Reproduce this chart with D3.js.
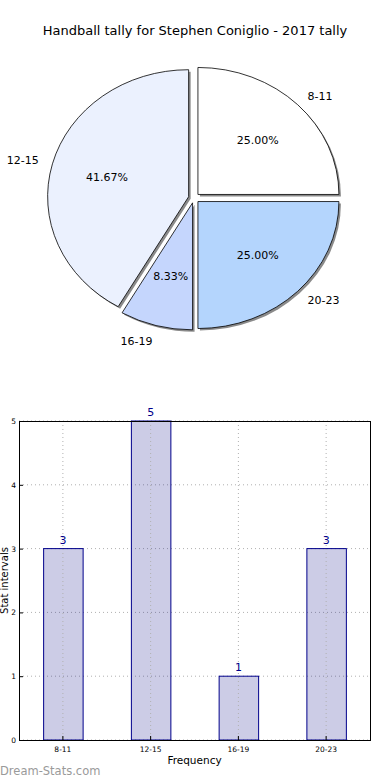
<!DOCTYPE html>
<html>
<head>
<meta charset="utf-8">
<script src="https://cdn.jsdelivr.net/npm/d3@7"></script>
<style>
  body { margin: 0; background: #fff; }
  svg { display: block; font-family: "DejaVu Sans", sans-serif; }
</style>
</head>
<body>
<div id="chart"></div>
<script>
// chart data
var categories = ["8-11", "12-15", "16-19", "20-23"];
var counts = [3, 5, 1, 3];
var sliceColors = ["#ffffff", "#ebf1fe", "#c5d6fd", "#b4d5fd"];
var yTicks = [0, 1, 2, 3, 4, 5];

var title = "Handball tally for Stephen Coniglio - 2017 tally";

var W = 390, H = 780;
var svg = d3.select("#chart").append("svg")
    .attr("width", W)
    .attr("height", H);

svg.append("text")
    .attr("x", 195)
    .attr("y", 35)
    .attr("text-anchor", "middle")
    .style("font-size", "13px")
    .text(title);

// ---- pie (matplotlib style: starts at 3 o'clock, counter clockwise) ----
var cx = 194, cy = 198;
var ry = 127, sx = 141 / 127;   // pie is a bit stretched horizontally
var explode = 5;
var total = d3.sum(counts);

var pie = d3.pie()
    .sort(null)
    .startAngle(Math.PI / 2)
    .endAngle(Math.PI / 2 - 2 * Math.PI);

var arc = d3.arc().innerRadius(0).outerRadius(ry);
var slices = pie(counts);

// offset of a slice along its mid angle (d3 angle: clockwise from 12 o'clock)
function shift(d, dist) {
  var a = (d.startAngle + d.endAngle) / 2;
  return [Math.sin(a) * dist * sx, -Math.cos(a) * dist];
}

var pieG = svg.append("g").attr("class", "pie");

// shadows first
pieG.selectAll("path.shadow")
    .data(slices)
  .enter().append("path")
    .attr("class", "shadow")
    .attr("d", arc)
    .attr("fill", "#8a8a8a")
    .attr("transform", function(d) {
      var o = shift(d, explode);
      return "translate(" + (cx + o[0] + 2) + "," + (cy + o[1] + 2) + ") scale(" + sx + ",1)";
    });

pieG.selectAll("path.slice")
    .data(slices)
  .enter().append("path")
    .attr("class", "slice")
    .attr("d", arc)
    .attr("fill", function(d, i) { return sliceColors[i]; })
    .attr("stroke", "#000")
    .attr("stroke-width", 0.8)
    .attr("vector-effect", "non-scaling-stroke")
    .attr("transform", function(d) {
      var o = shift(d, explode);
      return "translate(" + (cx + o[0]) + "," + (cy + o[1]) + ") scale(" + sx + ",1)";
    });

function radialPos(d, frac) {
  var a = (d.startAngle + d.endAngle) / 2;
  var o = shift(d, explode);
  return [cx + o[0] + Math.sin(a) * frac * ry * sx, cy + o[1] - Math.cos(a) * frac * ry];
}

pieG.selectAll("text.pct")
    .data(slices)
  .enter().append("text")
    .attr("class", "pct")
    .attr("x", function(d) { return radialPos(d, 0.6)[0]; })
    .attr("y", function(d) { return radialPos(d, 0.6)[1]; })
    .attr("dy", "0.35em")
    .attr("text-anchor", "middle")
    .style("font-size", "11px")
    .text(function(d) { return (d.value / total * 100).toFixed(2) + "%"; });

pieG.selectAll("text.lbl")
    .data(slices)
  .enter().append("text")
    .attr("class", "lbl")
    .attr("x", function(d) { return radialPos(d, 1.1)[0]; })
    .attr("y", function(d) { return radialPos(d, 1.1)[1]; })
    .attr("dy", function(d) {
      var p = radialPos(d, 1.1);
      return p[1] > cy + ry ? "0.7em" : "0.35em";
    })
    .attr("text-anchor", function(d) {
      return radialPos(d, 1.1)[0] > cx ? "start" : "end";
    })
    .style("font-size", "11px")
    .text(function(d, i) { return categories[i]; });

// ---- bar chart ----
var plot = {left: 19, right: 370, top: 421, bottom: 740};

var x = d3.scaleBand()
    .domain(categories)
    .range([plot.left, plot.right])
    .paddingInner(0.55)
    .paddingOuter(0.275);

var y = d3.scaleLinear()
    .domain([0, 5])
    .range([plot.bottom, plot.top]);

var bars = svg.append("g").attr("class", "bars");

// grid
bars.selectAll("line.hgrid")
    .data(yTicks)
  .enter().append("line")
    .attr("class", "hgrid")
    .attr("x1", plot.left).attr("x2", plot.right)
    .attr("y1", function(d) { return y(d); })
    .attr("y2", function(d) { return y(d); })
    .attr("stroke", "#b0b0b0")
    .attr("stroke-width", 1)
    .attr("stroke-dasharray", "1,3");

bars.selectAll("line.vgrid")
    .data(categories)
  .enter().append("line")
    .attr("class", "vgrid")
    .attr("x1", function(d) { return x(d) + x.bandwidth() / 2; })
    .attr("x2", function(d) { return x(d) + x.bandwidth() / 2; })
    .attr("y1", plot.top).attr("y2", plot.bottom)
    .attr("stroke", "#b0b0b0")
    .attr("stroke-width", 1)
    .attr("stroke-dasharray", "1,3");

bars.selectAll("rect.bar")
    .data(counts)
  .enter().append("rect")
    .attr("class", "bar")
    .attr("x", function(d, i) { return x(categories[i]) + 0.5; })
    .attr("y", function(d) { return y(d); })
    .attr("width", x.bandwidth())
    .attr("height", function(d) { return plot.bottom - y(d); })
    .attr("fill", "rgba(0,0,128,0.2)")
    .attr("stroke", "#00008b")
    .attr("stroke-width", 1);

// grid shows through the bars
bars.selectAll("line.vgrid").raise();

bars.selectAll("text.val")
    .data(counts)
  .enter().append("text")
    .attr("class", "val")
    .attr("x", function(d, i) { return x(categories[i]) + x.bandwidth() / 2; })
    .attr("y", function(d) { return y(d) - 5; })
    .attr("text-anchor", "middle")
    .attr("fill", "#00008b")
    .style("font-size", "11px")
    .text(function(d) { return d; });

// axes
var yAxis = d3.axisLeft(y).tickValues(yTicks).tickFormat(d3.format("d")).tickSize(-4).tickPadding(3);
var xAxis = d3.axisBottom(x).tickSize(-4).tickPadding(7);

var gy = svg.append("g")
    .attr("transform", "translate(" + plot.left + ",0)")
    .call(yAxis);
var gx = svg.append("g")
    .attr("transform", "translate(0," + plot.bottom + ")")
    .call(xAxis);

[gx, gy].forEach(function(g) {
  g.select(".domain").remove();
  g.selectAll("text").style("font-size", "7.5px").attr("fill", "#000").style("font-family", "DejaVu Sans");
  g.selectAll("line").attr("stroke", "#000");
});

svg.append("rect")
    .attr("x", plot.left + 0.5)
    .attr("y", plot.top + 0.5)
    .attr("width", plot.right - plot.left)
    .attr("height", plot.bottom - plot.top)
    .attr("fill", "none")
    .attr("stroke", "#000")
    .attr("stroke-width", 1);

svg.append("text")
    .attr("x", (plot.left + plot.right) / 2)
    .attr("y", 764)
    .attr("text-anchor", "middle")
    .style("font-size", "10.5px")
    .text("Frequency");

svg.append("text")
    .attr("transform", "translate(8," + (plot.top + plot.bottom) / 2 + ") rotate(-90)")
    .attr("text-anchor", "middle")
    .style("font-size", "10px")
    .text("Stat intervals");

svg.append("text")
    .attr("x", 0)
    .attr("y", 775)
    .attr("fill", "#9a9a9a")
    .style("font-size", "11.5px")
    .text("Dream-Stats.com");
</script>
</body>
</html>
